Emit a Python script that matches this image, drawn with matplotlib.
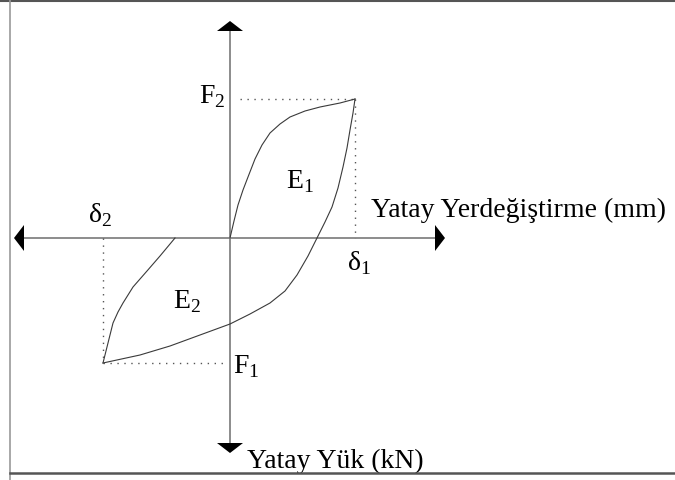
import matplotlib
matplotlib.use('Agg')
import matplotlib.pyplot as plt
from matplotlib.patches import Polygon
from matplotlib.lines import Line2D

plt.rcParams['font.family'] = ['Liberation Serif', 'DejaVu Serif']
plt.rcParams['mathtext.fontset'] = 'custom'
plt.rcParams['mathtext.rm'] = 'Liberation Serif'

# characteristic points of the loop (displacement, load)
delta1, F2 = 125, 139
delta2, F1 = -127, -125

# loading branch: origin -> (delta1, F2)
load_x = [0, 4, 8, 13, 18, 25, 32, 40, 50, 60, 75, 90, 110, 125]
load_y = [0, 17, 33, 48, 61, 79, 93, 105, 114, 121, 127, 131, 135, 139]

# unloading branch: (delta1, F2) -> (delta2, F1)
unload_x = [125, 123, 120, 117, 113, 108, 102, 95, 87, 78, 67, 55, 40, 20, 0, -30, -60, -90, -127]
unload_y = [139, 125, 108, 90, 71, 50, 31, 16, 0, -18, -37, -53, -65, -76, -86, -97, -108, -117, -125]

# reloading branch: (delta2, F1) -> back to zero load
reload_x = [-127, -122, -117, -112, -107, -97, -83, -70, -55]
reload_y = [-125, -105, -85, -74, -65, -49, -33, -18, 0]

axis_col = '#8c8c8c'
curve_col = '#3a3a3a'

fig = plt.figure(figsize=(6.75, 4.8), dpi=100)
ax = fig.add_axes([0, 0, 1, 1])
ax.set_xlim(-230, 445)
ax.set_ylim(-242, 238)
ax.axis('off')

# axes with arrowheads
x_left, x_right = -216, 215
y_top, y_bot = 217, -215
ax.plot([x_left + 5, x_right - 5], [0, 0], color=axis_col, lw=1.4, zorder=1)
ax.plot([0, 0], [y_bot + 5, y_top - 5], color=axis_col, lw=1.4, zorder=1)
hl, hw = 10, 13
for pts in ([(x_left, 0), (x_left + hl, hw), (x_left + hl, -hw)],
            [(x_right, 0), (x_right - hl, hw), (x_right - hl, -hw)],
            [(0, y_top), (-hw, y_top - hl), (hw, y_top - hl)],
            [(0, y_bot), (-hw, y_bot + hl), (hw, y_bot + hl)]):
    ax.add_patch(Polygon(pts, closed=True, color='black', lw=0, zorder=3))

# dotted guides to the peak points
dot = dict(color='#555555', lw=1.0, ls=(0, (1, 4)), zorder=1)
ax.plot([10, delta1], [F2, F2], **dot)
ax.plot([delta1, delta1], [F2, 0], **dot)
ax.plot([delta2, delta2], [0, F1], **dot)
ax.plot([delta2, -4], [F1, F1], **dot)

# hysteresis branches
ax.plot(load_x, load_y, color=curve_col, lw=0.8, zorder=2)
ax.plot(unload_x, unload_y, color=curve_col, lw=0.8, zorder=2)
ax.plot(reload_x, reload_y, color=curve_col, lw=0.8, zorder=2)

fs = 20
ax.text(-5, F2 - 4, r'F$_\mathrm{2}$', fontsize=fs, ha='right', va='baseline')
ax.text(56, 50, r'E$_\mathrm{1}$', fontsize=fs, ha='left', va='baseline')
ax.text(-57, -70, r'E$_\mathrm{2}$', fontsize=fs, ha='left', va='baseline')
ax.text(3, F1 - 10, r'F$_\mathrm{1}$', fontsize=fs, ha='left', va='baseline')
ax.text(delta1 - 8, -32, r'δ$_\mathrm{1}$', fontsize=fs, ha='left', va='baseline')
ax.text(delta2 - 15, 16, r'δ$_\mathrm{2}$', fontsize=fs, ha='left', va='baseline')
ax.text(141, 21, 'Yatay Yerdeğiştirme (mm)', fontsize=fs, ha='left', va='baseline')
ax.text(17, -230, 'Yatay Yük (kN)', fontsize=fs, ha='left', va='baseline')

# frame lines around the drawing
fig.add_artist(Line2D([0, 1], [0.998, 0.998], color='#555555', lw=1.5))
fig.add_artist(Line2D([9.5 / 675, 9.5 / 675], [0, 1], color='#999999', lw=1.2))
fig.add_artist(Line2D([9.5 / 675, 1], [1 - 473 / 480, 1 - 473 / 480], color='#555555', lw=1.8))

fig.savefig('out.png', dpi=100)
